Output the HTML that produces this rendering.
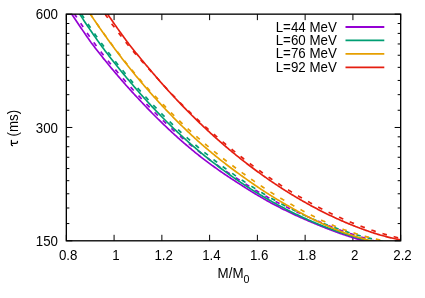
<!DOCTYPE html>
<html><head><meta charset="utf-8"><title>plot</title>
<style>html,body{margin:0;padding:0;background:#fff;}body{width:425px;height:298px;position:relative;overflow:hidden;font-family:"Liberation Sans",sans-serif;}</style>
</head><body>
<svg width="425" height="298" viewBox="0 0 425 298" style="position:absolute;left:0;top:0;will-change:transform">
<defs><clipPath id="c"><rect x="66.33" y="14.15" width="334.34" height="226.65"/></clipPath></defs>
<rect width="425" height="298" fill="#fff"/>
<path d="M66.33 240.80 v-6.0 M66.33 14.15 v6.0 M114.09 240.80 v-6.0 M114.09 14.15 v6.0 M161.86 240.80 v-6.0 M161.86 14.15 v6.0 M209.62 240.80 v-6.0 M209.62 14.15 v6.0 M257.38 240.80 v-6.0 M257.38 14.15 v6.0 M305.14 240.80 v-6.0 M305.14 14.15 v6.0 M352.91 240.80 v-6.0 M352.91 14.15 v6.0 M400.67 240.80 v-6.0 M400.67 14.15 v6.0 M66.33 240.80 h6.0 M400.67 240.80 h-6.0 M66.33 127.48 h6.0 M400.67 127.48 h-6.0 M66.33 14.15 h6.0 M400.67 14.15 h-6.0 M66.33 223.57 h3.0 M400.67 223.57 h-3.0 M66.33 207.99 h3.0 M400.67 207.99 h-3.0 M66.33 193.77 h3.0 M400.67 193.77 h-3.0 M66.33 180.68 h3.0 M400.67 180.68 h-3.0 M66.33 168.56 h3.0 M400.67 168.56 h-3.0 M66.33 157.28 h3.0 M400.67 157.28 h-3.0 M66.33 146.73 h3.0 M400.67 146.73 h-3.0 M66.33 136.82 h3.0 M400.67 136.82 h-3.0 M66.33 110.25 h3.0 M400.67 110.25 h-3.0 M66.33 94.67 h3.0 M400.67 94.67 h-3.0 M66.33 80.44 h3.0 M400.67 80.44 h-3.0 M66.33 67.35 h3.0 M400.67 67.35 h-3.0 M66.33 55.24 h3.0 M400.67 55.24 h-3.0 M66.33 43.96 h3.0 M400.67 43.96 h-3.0 M66.33 33.41 h3.0 M400.67 33.41 h-3.0 M66.33 23.50 h3.0 M400.67 23.50 h-3.0" stroke="#000" stroke-width="1.00" fill="none"/>
<g clip-path="url(#c)" fill="none" stroke-width="1.67" stroke-linejoin="round">
<path d="M60.00 -3.71 L61.00 -2.15 L62.00 -0.60 L63.00 0.94 L64.00 2.48 L65.00 4.01 L66.00 5.53 L67.00 7.05 L68.00 8.56 L69.00 10.06 L70.00 11.56 L71.00 13.05 L72.00 14.53 L73.00 16.00 L74.00 17.47 L75.00 18.93 L76.00 20.44 L77.00 21.95 L78.00 23.46 L79.00 24.95 L80.00 26.44 L81.00 27.93 L82.00 29.40 L83.00 30.87 L84.00 32.33 L85.00 33.79 L86.00 35.24 L87.00 36.68 L88.00 38.12 L89.00 39.55 L90.00 40.97 L91.00 42.39 L92.00 43.71 L93.00 45.03 L94.00 46.34 L95.00 47.65 L96.00 48.94 L97.00 50.24 L98.00 51.52 L99.00 52.80 L100.00 54.07 L101.00 55.34 L102.00 56.60 L103.00 57.86 L104.00 59.11 L105.00 60.35 L106.00 61.59 L107.00 62.82 L108.00 64.04 L109.00 65.26 L110.00 66.47 L111.00 67.68 L112.00 68.88 L113.00 70.08 L114.00 71.26 L115.00 72.45 L116.00 73.63 L117.00 74.81 L118.00 75.99 L119.00 77.16 L120.00 78.32 L121.00 79.48 L122.00 80.63 L123.00 81.77 L124.00 82.91 L125.00 84.05 L126.00 85.18 L127.00 86.30 L128.00 87.42 L129.00 88.53 L130.00 89.63 L131.00 90.74 L132.00 91.83 L133.00 92.92 L134.00 94.01 L135.00 95.08 L136.00 96.16 L137.00 97.23 L138.00 98.29 L139.00 99.35 L140.00 100.40 L141.00 101.48 L142.00 102.55 L143.00 103.61 L144.00 104.67 L145.00 105.73 L146.00 106.78 L147.00 107.82 L148.00 108.86 L149.00 109.89 L150.00 110.92 L151.00 111.95 L152.00 112.97 L153.00 113.98 L154.00 114.99 L155.00 115.99 L156.00 116.99 L157.00 117.99 L158.00 118.98 L159.00 119.96 L160.00 120.94 L161.00 121.92 L162.00 122.89 L163.00 123.85 L164.00 124.81 L165.00 125.77 L166.00 126.72 L167.00 127.66 L168.00 128.60 L169.00 129.54 L170.00 130.47 L171.00 131.40 L172.00 132.32 L173.00 133.24 L174.00 134.15 L175.00 135.06 L176.00 135.96 L177.00 136.86 L178.00 137.76 L179.00 138.65 L180.00 139.53 L181.00 140.41 L182.00 141.29 L183.00 142.16 L184.00 143.03 L185.00 143.89 L186.00 144.75 L187.00 145.61 L188.00 146.46 L189.00 147.30 L190.00 148.14 L191.00 148.98 L192.00 149.81 L193.00 150.64 L194.00 151.46 L195.00 152.29 L196.00 153.10 L197.00 153.91 L198.00 154.72 L199.00 155.50 L200.00 156.28 L201.00 157.05 L202.00 157.82 L203.00 158.59 L204.00 159.35 L205.00 160.11 L206.00 160.86 L207.00 161.62 L208.00 162.36 L209.00 163.10 L210.00 163.84 L211.00 164.58 L212.00 165.31 L213.00 166.03 L214.00 166.76 L215.00 167.47 L216.00 168.19 L217.00 168.90 L218.00 169.61 L219.00 170.31 L220.00 171.01 L221.00 171.71 L222.00 172.40 L223.00 173.09 L224.00 173.77 L225.00 174.45 L226.00 175.13 L227.00 175.80 L228.00 176.47 L229.00 177.14 L230.00 177.80 L231.00 178.46 L232.00 179.11 L233.00 179.77 L234.00 180.41 L235.00 181.06 L236.00 181.70 L237.00 182.34 L238.00 182.97 L239.00 183.60 L240.00 184.23 L241.00 184.88 L242.00 185.53 L243.00 186.18 L244.00 186.82 L245.00 187.46 L246.00 188.09 L247.00 188.72 L248.00 189.35 L249.00 189.98 L250.00 190.60 L251.00 191.22 L252.00 191.84 L253.00 192.45 L254.00 193.06 L255.00 193.66 L256.00 194.27 L257.00 194.87 L258.00 195.46 L259.00 196.05 L260.00 196.65 L261.00 197.23 L262.00 197.82 L263.00 198.40 L264.00 198.97 L265.00 199.55 L266.00 200.12 L267.00 200.69 L268.00 201.25 L269.00 201.82 L270.00 202.38 L271.00 202.93 L272.00 203.49 L273.00 204.01 L274.00 204.54 L275.00 205.06 L276.00 205.58 L277.00 206.10 L278.00 206.61 L279.00 207.12 L280.00 207.63 L281.00 208.13 L282.00 208.63 L283.00 209.13 L284.00 209.63 L285.00 210.12 L286.00 210.61 L287.00 211.10 L288.00 211.58 L289.00 212.07 L290.00 212.55 L291.00 213.02 L292.00 213.50 L293.00 213.97 L294.00 214.44 L295.00 214.90 L296.00 215.37 L297.00 215.83 L298.00 216.29 L299.00 216.74 L300.00 217.19 L301.00 217.64 L302.00 218.09 L303.00 218.54 L304.00 218.98 L305.00 219.42 L306.00 219.86 L307.00 220.29 L308.00 220.72 L309.00 221.15 L310.00 221.58 L311.00 222.01 L312.00 222.43 L313.00 222.85 L314.00 223.26 L315.00 223.68 L316.00 224.09 L317.00 224.50 L318.00 224.91 L319.00 225.32 L320.00 225.72 L321.00 226.13 L322.00 226.53 L323.00 226.93 L324.00 227.33 L325.00 227.72 L326.00 228.12 L327.00 228.51 L328.00 228.90 L329.00 229.28 L330.00 229.67 L331.00 230.05 L332.00 230.43 L333.00 230.81 L334.00 231.18 L335.00 231.56 L336.00 231.93 L337.00 232.30 L338.00 232.66 L339.00 233.03 L340.00 233.39 L341.00 233.73 L342.00 234.07 L343.00 234.40 L344.00 234.74 L345.00 235.07 L346.00 235.40 L347.00 235.73 L348.00 236.05 L349.00 236.38 L350.00 236.70 L351.00 237.02 L352.00 237.33 L353.00 237.65 L354.00 237.96 L355.00 238.27 L356.00 238.58 L357.00 238.89 L358.00 239.20 L359.00 239.50 L360.00 239.80 L361.00 240.11 L362.00 240.42 L363.00 240.73 L364.00 241.04 L365.00 241.34 L366.00 241.65 L367.00 241.95 L368.00 242.24 L369.00 242.54 L370.00 242.84 L371.00 243.13 L372.00 243.42 L373.00 243.71 L374.00 244.00 L375.00 244.29 L376.00 244.57 L377.00 244.85 L378.00 245.13 L379.00 245.41 L380.00 245.69 L381.00 245.96 L382.00 246.24 L383.00 246.51 L384.00 246.78 L385.00 247.04 L386.00 247.31 L387.00 247.57 L388.00 247.84 L389.00 248.10 L390.00 248.36 L391.00 248.61 L392.00 248.87 L393.00 249.12 L394.00 249.38 L395.00 249.63 L396.00 249.87 L397.00 250.12 L398.00 250.37 L399.00 250.61 L400.00 250.85 L401.00 251.09 L402.00 251.33" stroke="#9400d3"/>
<path d="M60.00 -8.11 L61.00 -6.54 L62.00 -4.98 L63.00 -3.43 L64.00 -1.88 L65.00 -0.34 L66.00 1.19 L67.00 2.72 L68.00 4.24 L69.00 5.75 L70.00 7.26 L71.00 8.76 L72.00 10.25 L73.00 11.73 L74.00 13.21 L75.00 14.68 L76.00 16.20 L77.00 17.72 L78.00 19.24 L79.00 20.74 L80.00 22.24 L81.00 23.77 L82.00 25.29 L83.00 26.81 L84.00 28.31 L85.00 29.81 L86.00 31.31 L87.00 32.80 L88.00 34.28 L89.00 35.75 L90.00 37.22 L91.00 38.69 L92.00 40.05 L93.00 41.42 L94.00 42.77 L95.00 44.12 L96.00 45.46 L97.00 46.80 L98.00 48.13 L99.00 49.46 L100.00 50.77 L101.00 52.04 L102.00 53.31 L103.00 54.56 L104.00 55.82 L105.00 57.06 L106.00 58.30 L107.00 59.53 L108.00 60.76 L109.00 61.98 L110.00 63.19 L111.00 64.40 L112.00 65.60 L113.00 66.80 L114.00 67.99 L115.00 69.18 L116.00 70.37 L117.00 71.55 L118.00 72.72 L119.00 73.90 L120.00 75.06 L121.00 76.22 L122.00 77.37 L123.00 78.52 L124.00 79.66 L125.00 80.80 L126.00 81.93 L127.00 83.05 L128.00 84.17 L129.00 85.29 L130.00 86.39 L131.00 87.50 L132.00 88.59 L133.00 89.69 L134.00 90.77 L135.00 91.85 L136.00 92.93 L137.00 94.00 L138.00 95.07 L139.00 96.13 L140.00 97.18 L141.00 98.26 L142.00 99.33 L143.00 100.40 L144.00 101.46 L145.00 102.52 L146.00 103.57 L147.00 104.61 L148.00 105.66 L149.00 106.69 L150.00 107.72 L151.00 108.74 L152.00 109.75 L153.00 110.76 L154.00 111.76 L155.00 112.75 L156.00 113.75 L157.00 114.73 L158.00 115.71 L159.00 116.69 L160.00 117.66 L161.00 118.63 L162.00 119.59 L163.00 120.55 L164.00 121.50 L165.00 122.45 L166.00 123.39 L167.00 124.33 L168.00 125.26 L169.00 126.19 L170.00 127.11 L171.00 128.03 L172.00 128.95 L173.00 129.85 L174.00 130.76 L175.00 131.66 L176.00 132.55 L177.00 133.43 L178.00 134.31 L179.00 135.18 L180.00 136.05 L181.00 136.91 L182.00 137.77 L183.00 138.63 L184.00 139.48 L185.00 140.33 L186.00 141.17 L187.00 142.01 L188.00 142.84 L189.00 143.67 L190.00 144.49 L191.00 145.31 L192.00 146.13 L193.00 146.94 L194.00 147.75 L195.00 148.55 L196.00 149.35 L197.00 150.15 L198.00 150.94 L199.00 151.70 L200.00 152.46 L201.00 153.22 L202.00 153.97 L203.00 154.72 L204.00 155.47 L205.00 156.21 L206.00 156.97 L207.00 157.72 L208.00 158.47 L209.00 159.21 L210.00 159.96 L211.00 160.69 L212.00 161.43 L213.00 162.16 L214.00 162.88 L215.00 163.60 L216.00 164.32 L217.00 165.03 L218.00 165.74 L219.00 166.45 L220.00 167.15 L221.00 167.85 L222.00 168.55 L223.00 169.24 L224.00 169.93 L225.00 170.61 L226.00 171.29 L227.00 171.97 L228.00 172.64 L229.00 173.31 L230.00 173.97 L231.00 174.63 L232.00 175.29 L233.00 175.95 L234.00 176.60 L235.00 177.24 L236.00 177.89 L237.00 178.53 L238.00 179.17 L239.00 179.80 L240.00 180.43 L241.00 181.08 L242.00 181.73 L243.00 182.37 L244.00 183.01 L245.00 183.65 L246.00 184.28 L247.00 184.91 L248.00 185.54 L249.00 186.16 L250.00 186.78 L251.00 187.40 L252.00 188.02 L253.00 188.63 L254.00 189.23 L255.00 189.84 L256.00 190.44 L257.00 191.04 L258.00 191.63 L259.00 192.22 L260.00 192.81 L261.00 193.40 L262.00 193.98 L263.00 194.56 L264.00 195.13 L265.00 195.71 L266.00 196.28 L267.00 196.84 L268.00 197.41 L269.00 197.97 L270.00 198.53 L271.00 199.08 L272.00 199.63 L273.00 200.16 L274.00 200.68 L275.00 201.20 L276.00 201.72 L277.00 202.23 L278.00 202.75 L279.00 203.25 L280.00 203.76 L281.00 204.26 L282.00 204.76 L283.00 205.26 L284.00 205.75 L285.00 206.25 L286.00 206.74 L287.00 207.22 L288.00 207.70 L289.00 208.19 L290.00 208.66 L291.00 209.14 L292.00 209.61 L293.00 210.08 L294.00 210.55 L295.00 211.01 L296.00 211.47 L297.00 211.93 L298.00 212.39 L299.00 212.84 L300.00 213.29 L301.00 213.76 L302.00 214.22 L303.00 214.67 L304.00 215.13 L305.00 215.58 L306.00 216.03 L307.00 216.47 L308.00 216.92 L309.00 217.36 L310.00 217.80 L311.00 218.24 L312.00 218.67 L313.00 219.10 L314.00 219.53 L315.00 219.96 L316.00 220.38 L317.00 220.81 L318.00 221.23 L319.00 221.64 L320.00 222.06 L321.00 222.48 L322.00 222.89 L323.00 223.30 L324.00 223.71 L325.00 224.12 L326.00 224.54 L327.00 224.95 L328.00 225.36 L329.00 225.76 L330.00 226.17 L331.00 226.57 L332.00 226.97 L333.00 227.37 L334.00 227.76 L335.00 228.16 L336.00 228.55 L337.00 228.94 L338.00 229.32 L339.00 229.71 L340.00 230.09 L341.00 230.45 L342.00 230.81 L343.00 231.16 L344.00 231.52 L345.00 231.87 L346.00 232.20 L347.00 232.53 L348.00 232.85 L349.00 233.18 L350.00 233.50 L351.00 233.82 L352.00 234.13 L353.00 234.45 L354.00 234.76 L355.00 235.07 L356.00 235.38 L357.00 235.69 L358.00 236.00 L359.00 236.30 L360.00 236.60 L361.00 236.91 L362.00 237.22 L363.00 237.53 L364.00 237.84 L365.00 238.14 L366.00 238.45 L367.00 238.75 L368.00 239.04 L369.00 239.34 L370.00 239.64 L371.00 239.93 L372.00 240.22 L373.00 240.51 L374.00 240.80 L375.00 241.09 L376.00 241.37 L377.00 241.65 L378.00 241.93 L379.00 242.21 L380.00 242.49 L381.00 242.76 L382.00 243.04 L383.00 243.31 L384.00 243.58 L385.00 243.84 L386.00 244.11 L387.00 244.37 L388.00 244.64 L389.00 244.90 L390.00 245.16 L391.00 245.41 L392.00 245.67 L393.00 245.92 L394.00 246.18 L395.00 246.43 L396.00 246.67 L397.00 246.92 L398.00 247.17 L399.00 247.41 L400.00 247.65 L401.00 247.89 L402.00 248.13" stroke="#9400d3" stroke-dasharray="4.60 7.00" stroke-dashoffset="8.89"/>
<path d="M60.00 -18.04 L61.00 -16.33 L62.00 -14.63 L63.00 -12.94 L64.00 -11.25 L65.00 -9.58 L66.00 -7.91 L67.00 -6.25 L68.00 -4.60 L69.00 -2.96 L70.00 -1.33 L71.00 0.30 L72.00 1.92 L73.00 3.52 L74.00 5.12 L75.00 6.71 L76.00 8.30 L77.00 9.87 L78.00 11.44 L79.00 13.00 L80.00 14.55 L81.00 16.09 L82.00 17.63 L83.00 19.16 L84.00 20.67 L85.00 22.19 L86.00 23.69 L87.00 25.18 L88.00 26.67 L89.00 28.15 L90.00 29.63 L91.00 31.09 L92.00 32.55 L93.00 34.00 L94.00 35.44 L95.00 36.88 L96.00 38.30 L97.00 39.72 L98.00 41.14 L99.00 42.54 L100.00 43.94 L101.00 45.30 L102.00 46.65 L103.00 47.99 L104.00 49.33 L105.00 50.66 L106.00 51.98 L107.00 53.29 L108.00 54.60 L109.00 55.90 L110.00 57.20 L111.00 58.48 L112.00 59.76 L113.00 61.04 L114.00 62.30 L115.00 63.56 L116.00 64.82 L117.00 66.06 L118.00 67.30 L119.00 68.54 L120.00 69.76 L121.00 70.98 L122.00 72.20 L123.00 73.40 L124.00 74.60 L125.00 75.80 L126.00 76.99 L127.00 78.17 L128.00 79.34 L129.00 80.51 L130.00 81.68 L131.00 82.87 L132.00 84.06 L133.00 85.24 L134.00 86.42 L135.00 87.58 L136.00 88.75 L137.00 89.91 L138.00 91.06 L139.00 92.20 L140.00 93.34 L141.00 94.48 L142.00 95.60 L143.00 96.73 L144.00 97.84 L145.00 98.95 L146.00 100.06 L147.00 101.16 L148.00 102.25 L149.00 103.34 L150.00 104.42 L151.00 105.50 L152.00 106.57 L153.00 107.63 L154.00 108.69 L155.00 109.75 L156.00 110.80 L157.00 111.84 L158.00 112.88 L159.00 113.91 L160.00 114.94 L161.00 115.96 L162.00 116.98 L163.00 117.99 L164.00 119.00 L165.00 120.00 L166.00 120.99 L167.00 121.98 L168.00 122.97 L169.00 123.95 L170.00 124.92 L171.00 125.89 L172.00 126.86 L173.00 127.82 L174.00 128.78 L175.00 129.73 L176.00 130.67 L177.00 131.61 L178.00 132.55 L179.00 133.48 L180.00 134.40 L181.00 135.33 L182.00 136.24 L183.00 137.15 L184.00 138.06 L185.00 138.96 L186.00 139.86 L187.00 140.75 L188.00 141.64 L189.00 142.52 L190.00 143.40 L191.00 144.28 L192.00 145.15 L193.00 146.01 L194.00 146.87 L195.00 147.73 L196.00 148.58 L197.00 149.43 L198.00 150.27 L199.00 151.11 L200.00 151.94 L201.00 152.77 L202.00 153.59 L203.00 154.41 L204.00 155.23 L205.00 156.04 L206.00 156.85 L207.00 157.65 L208.00 158.45 L209.00 159.25 L210.00 160.04 L211.00 160.83 L212.00 161.61 L213.00 162.39 L214.00 163.16 L215.00 163.93 L216.00 164.70 L217.00 165.46 L218.00 166.22 L219.00 166.97 L220.00 167.72 L221.00 168.47 L222.00 169.21 L223.00 169.95 L224.00 170.68 L225.00 171.42 L226.00 172.14 L227.00 172.86 L228.00 173.58 L229.00 174.30 L230.00 175.01 L231.00 175.72 L232.00 176.42 L233.00 177.12 L234.00 177.82 L235.00 178.51 L236.00 179.20 L237.00 179.88 L238.00 180.57 L239.00 181.24 L240.00 181.92 L241.00 182.59 L242.00 183.25 L243.00 183.92 L244.00 184.58 L245.00 185.23 L246.00 185.88 L247.00 186.53 L248.00 187.18 L249.00 187.82 L250.00 188.46 L251.00 189.09 L252.00 189.72 L253.00 190.35 L254.00 190.97 L255.00 191.59 L256.00 192.21 L257.00 192.82 L258.00 193.43 L259.00 194.04 L260.00 194.64 L261.00 195.24 L262.00 195.83 L263.00 196.43 L264.00 197.02 L265.00 197.60 L266.00 198.18 L267.00 198.76 L268.00 199.34 L269.00 199.91 L270.00 200.48 L271.00 201.04 L272.00 201.61 L273.00 202.16 L274.00 202.72 L275.00 203.27 L276.00 203.82 L277.00 204.37 L278.00 204.91 L279.00 205.45 L280.00 205.98 L281.00 206.52 L282.00 207.05 L283.00 207.57 L284.00 208.10 L285.00 208.62 L286.00 209.13 L287.00 209.65 L288.00 210.16 L289.00 210.66 L290.00 211.17 L291.00 211.67 L292.00 212.17 L293.00 212.66 L294.00 213.15 L295.00 213.64 L296.00 214.13 L297.00 214.61 L298.00 215.09 L299.00 215.56 L300.00 216.04 L301.00 216.51 L302.00 216.97 L303.00 217.44 L304.00 217.90 L305.00 218.35 L306.00 218.81 L307.00 219.26 L308.00 219.71 L309.00 220.15 L310.00 220.59 L311.00 221.03 L312.00 221.47 L313.00 221.90 L314.00 222.33 L315.00 222.75 L316.00 223.18 L317.00 223.60 L318.00 224.01 L319.00 224.43 L320.00 224.84 L321.00 225.24 L322.00 225.63 L323.00 226.03 L324.00 226.42 L325.00 226.80 L326.00 227.19 L327.00 227.57 L328.00 227.94 L329.00 228.32 L330.00 228.69 L331.00 229.06 L332.00 229.42 L333.00 229.79 L334.00 230.14 L335.00 230.50 L336.00 230.85 L337.00 231.20 L338.00 231.55 L339.00 231.89 L340.00 232.23 L341.00 232.57 L342.00 232.91 L343.00 233.24 L344.00 233.57 L345.00 233.89 L346.00 234.21 L347.00 234.53 L348.00 234.85 L349.00 235.16 L350.00 235.47 L351.00 235.77 L352.00 236.08 L353.00 236.38 L354.00 236.67 L355.00 236.97 L356.00 237.26 L357.00 237.55 L358.00 237.83 L359.00 238.11 L360.00 238.39 L361.00 238.66 L362.00 238.94 L363.00 239.21 L364.00 239.47 L365.00 239.73 L366.00 239.99 L367.00 240.25 L368.00 240.50 L369.00 240.75 L370.00 241.00 L371.00 241.24 L372.00 241.48 L373.00 241.74 L374.00 242.00 L375.00 242.25 L376.00 242.50 L377.00 242.75 L378.00 243.00 L379.00 243.24 L380.00 243.47 L381.00 243.71 L382.00 243.94 L383.00 244.17 L384.00 244.39 L385.00 244.61 L386.00 244.83 L387.00 245.04 L388.00 245.25 L389.00 245.46 L390.00 245.66 L391.00 245.87 L392.00 246.06 L393.00 246.26 L394.00 246.45 L395.00 246.63 L396.00 246.82 L397.00 247.00 L398.00 247.18 L399.00 247.35 L400.00 247.52 L401.00 247.69 L402.00 247.85" stroke="#009e73"/>
<path d="M60.00 -20.74 L61.00 -19.03 L62.00 -17.33 L63.00 -15.63 L64.00 -13.95 L65.00 -12.27 L66.00 -10.60 L67.00 -8.94 L68.00 -7.29 L69.00 -5.65 L70.00 -4.01 L71.00 -2.39 L72.00 -0.77 L73.00 0.84 L74.00 2.44 L75.00 4.04 L76.00 5.62 L77.00 7.20 L78.00 8.77 L79.00 10.33 L80.00 11.88 L81.00 13.42 L82.00 14.96 L83.00 16.49 L84.00 18.01 L85.00 19.52 L86.00 21.03 L87.00 22.52 L88.00 24.01 L89.00 25.49 L90.00 26.97 L91.00 28.44 L92.00 29.89 L93.00 31.35 L94.00 32.79 L95.00 34.23 L96.00 35.65 L97.00 37.08 L98.00 38.49 L99.00 39.90 L100.00 41.30 L101.00 42.66 L102.00 44.01 L103.00 45.35 L104.00 46.69 L105.00 48.02 L106.00 49.34 L107.00 50.66 L108.00 51.97 L109.00 53.27 L110.00 54.57 L111.00 55.86 L112.00 57.14 L113.00 58.41 L114.00 59.68 L115.00 60.94 L116.00 62.20 L117.00 63.44 L118.00 64.69 L119.00 65.92 L120.00 67.15 L121.00 68.37 L122.00 69.59 L123.00 70.79 L124.00 72.00 L125.00 73.19 L126.00 74.38 L127.00 75.56 L128.00 76.74 L129.00 77.91 L130.00 79.08 L131.00 80.26 L132.00 81.44 L133.00 82.61 L134.00 83.78 L135.00 84.93 L136.00 86.09 L137.00 87.24 L138.00 88.38 L139.00 89.51 L140.00 90.64 L141.00 91.77 L142.00 92.88 L143.00 94.00 L144.00 95.10 L145.00 96.20 L146.00 97.30 L147.00 98.39 L148.00 99.47 L149.00 100.55 L150.00 101.62 L151.00 102.69 L152.00 103.75 L153.00 104.80 L154.00 105.85 L155.00 106.90 L156.00 107.94 L157.00 108.97 L158.00 110.00 L159.00 111.02 L160.00 112.04 L161.00 113.05 L162.00 114.06 L163.00 115.07 L164.00 116.07 L165.00 117.06 L166.00 118.05 L167.00 119.03 L168.00 120.01 L169.00 120.98 L170.00 121.95 L171.00 122.91 L172.00 123.87 L173.00 124.82 L174.00 125.77 L175.00 126.71 L176.00 127.65 L177.00 128.58 L178.00 129.51 L179.00 130.44 L180.00 131.35 L181.00 132.27 L182.00 133.18 L183.00 134.08 L184.00 134.98 L185.00 135.87 L186.00 136.76 L187.00 137.65 L188.00 138.53 L189.00 139.41 L190.00 140.28 L191.00 141.14 L192.00 142.01 L193.00 142.86 L194.00 143.72 L195.00 144.56 L196.00 145.41 L197.00 146.25 L198.00 147.08 L199.00 147.91 L200.00 148.74 L201.00 149.57 L202.00 150.39 L203.00 151.21 L204.00 152.03 L205.00 152.84 L206.00 153.65 L207.00 154.45 L208.00 155.25 L209.00 156.05 L210.00 156.84 L211.00 157.63 L212.00 158.41 L213.00 159.19 L214.00 159.96 L215.00 160.73 L216.00 161.50 L217.00 162.26 L218.00 163.02 L219.00 163.77 L220.00 164.52 L221.00 165.27 L222.00 166.01 L223.00 166.75 L224.00 167.48 L225.00 168.22 L226.00 168.94 L227.00 169.66 L228.00 170.38 L229.00 171.10 L230.00 171.81 L231.00 172.52 L232.00 173.23 L233.00 173.94 L234.00 174.64 L235.00 175.34 L236.00 176.03 L237.00 176.72 L238.00 177.41 L239.00 178.09 L240.00 178.77 L241.00 179.45 L242.00 180.12 L243.00 180.79 L244.00 181.46 L245.00 182.12 L246.00 182.78 L247.00 183.43 L248.00 184.08 L249.00 184.73 L250.00 185.37 L251.00 186.01 L252.00 186.65 L253.00 187.28 L254.00 187.91 L255.00 188.53 L256.00 189.16 L257.00 189.78 L258.00 190.39 L259.00 191.00 L260.00 191.61 L261.00 192.22 L262.00 192.82 L263.00 193.42 L264.00 194.01 L265.00 194.60 L266.00 195.19 L267.00 195.77 L268.00 196.35 L269.00 196.93 L270.00 197.51 L271.00 198.08 L272.00 198.65 L273.00 199.21 L274.00 199.77 L275.00 200.33 L276.00 200.88 L277.00 201.43 L278.00 201.98 L279.00 202.53 L280.00 203.07 L281.00 203.61 L282.00 204.14 L283.00 204.68 L284.00 205.20 L285.00 205.73 L286.00 206.25 L287.00 206.77 L288.00 207.29 L289.00 207.80 L290.00 208.31 L291.00 208.82 L292.00 209.32 L293.00 209.82 L294.00 210.32 L295.00 210.81 L296.00 211.30 L297.00 211.79 L298.00 212.28 L299.00 212.76 L300.00 213.24 L301.00 213.71 L302.00 214.18 L303.00 214.64 L304.00 215.11 L305.00 215.57 L306.00 216.02 L307.00 216.48 L308.00 216.93 L309.00 217.38 L310.00 217.82 L311.00 218.26 L312.00 218.70 L313.00 219.14 L314.00 219.57 L315.00 220.00 L316.00 220.42 L317.00 220.85 L318.00 221.27 L319.00 221.68 L320.00 222.10 L321.00 222.50 L322.00 222.90 L323.00 223.29 L324.00 223.69 L325.00 224.08 L326.00 224.46 L327.00 224.85 L328.00 225.23 L329.00 225.60 L330.00 225.98 L331.00 226.35 L332.00 226.72 L333.00 227.08 L334.00 227.44 L335.00 227.80 L336.00 228.16 L337.00 228.51 L338.00 228.86 L339.00 229.21 L340.00 229.55 L341.00 229.89 L342.00 230.23 L343.00 230.56 L344.00 230.89 L345.00 231.22 L346.00 231.55 L347.00 231.87 L348.00 232.19 L349.00 232.50 L350.00 232.81 L351.00 233.12 L352.00 233.43 L353.00 233.73 L354.00 234.03 L355.00 234.33 L356.00 234.62 L357.00 234.91 L358.00 235.20 L359.00 235.48 L360.00 235.77 L361.00 236.04 L362.00 236.32 L363.00 236.59 L364.00 236.86 L365.00 237.13 L366.00 237.39 L367.00 237.65 L368.00 237.90 L369.00 238.16 L370.00 238.41 L371.00 238.65 L372.00 238.90 L373.00 239.16 L374.00 239.42 L375.00 239.68 L376.00 239.93 L377.00 240.18 L378.00 240.43 L379.00 240.67 L380.00 240.91 L381.00 241.15 L382.00 241.38 L383.00 241.61 L384.00 241.84 L385.00 242.06 L386.00 242.28 L387.00 242.50 L388.00 242.71 L389.00 242.92 L390.00 243.13 L391.00 243.33 L392.00 243.53 L393.00 243.73 L394.00 243.92 L395.00 244.11 L396.00 244.30 L397.00 244.48 L398.00 244.66 L399.00 244.84 L400.00 245.01 L401.00 245.18 L402.00 245.35" stroke="#009e73" stroke-dasharray="4.60 7.00" stroke-dashoffset="5.36"/>
<path d="M60.00 -35.02 L61.00 -33.28 L62.00 -31.55 L63.00 -29.83 L64.00 -28.12 L65.00 -26.42 L66.00 -24.72 L67.00 -23.03 L68.00 -21.35 L69.00 -19.68 L70.00 -18.02 L71.00 -16.36 L72.00 -14.71 L73.00 -13.07 L74.00 -11.44 L75.00 -9.82 L76.00 -8.20 L77.00 -6.59 L78.00 -4.99 L79.00 -3.40 L80.00 -1.81 L81.00 -0.23 L82.00 1.34 L83.00 2.90 L84.00 4.46 L85.00 6.01 L86.00 7.55 L87.00 9.08 L88.00 10.61 L89.00 12.12 L90.00 13.64 L91.00 15.14 L92.00 16.64 L93.00 18.13 L94.00 19.61 L95.00 21.09 L96.00 22.55 L97.00 24.02 L98.00 25.47 L99.00 26.92 L100.00 28.36 L101.00 29.79 L102.00 31.22 L103.00 32.64 L104.00 34.06 L105.00 35.46 L106.00 36.86 L107.00 38.26 L108.00 39.65 L109.00 41.03 L110.00 42.40 L111.00 43.77 L112.00 45.13 L113.00 46.49 L114.00 47.83 L115.00 49.18 L116.00 50.51 L117.00 51.84 L118.00 53.16 L119.00 54.48 L120.00 55.79 L121.00 57.09 L122.00 58.39 L123.00 59.68 L124.00 60.97 L125.00 62.25 L126.00 63.52 L127.00 64.79 L128.00 66.05 L129.00 67.31 L130.00 68.56 L131.00 69.80 L132.00 71.04 L133.00 72.27 L134.00 73.49 L135.00 74.71 L136.00 75.93 L137.00 77.14 L138.00 78.34 L139.00 79.54 L140.00 80.73 L141.00 81.92 L142.00 83.10 L143.00 84.27 L144.00 85.44 L145.00 86.60 L146.00 87.76 L147.00 88.92 L148.00 90.06 L149.00 91.21 L150.00 92.34 L151.00 93.47 L152.00 94.60 L153.00 95.72 L154.00 96.84 L155.00 97.95 L156.00 99.05 L157.00 100.15 L158.00 101.25 L159.00 102.34 L160.00 103.42 L161.00 104.50 L162.00 105.57 L163.00 106.64 L164.00 107.71 L165.00 108.77 L166.00 109.82 L167.00 110.87 L168.00 111.91 L169.00 112.95 L170.00 113.99 L171.00 115.02 L172.00 116.04 L173.00 117.06 L174.00 118.07 L175.00 119.08 L176.00 120.09 L177.00 121.09 L178.00 122.08 L179.00 123.07 L180.00 124.06 L181.00 125.04 L182.00 126.02 L183.00 126.99 L184.00 127.96 L185.00 128.92 L186.00 129.88 L187.00 130.83 L188.00 131.78 L189.00 132.72 L190.00 133.66 L191.00 134.59 L192.00 135.53 L193.00 136.45 L194.00 137.37 L195.00 138.29 L196.00 139.20 L197.00 140.11 L198.00 141.01 L199.00 141.91 L200.00 142.81 L201.00 143.69 L202.00 144.56 L203.00 145.42 L204.00 146.29 L205.00 147.15 L206.00 148.00 L207.00 148.85 L208.00 149.70 L209.00 150.54 L210.00 151.38 L211.00 152.21 L212.00 153.04 L213.00 153.87 L214.00 154.69 L215.00 155.50 L216.00 156.32 L217.00 157.13 L218.00 157.93 L219.00 158.73 L220.00 159.53 L221.00 160.32 L222.00 161.11 L223.00 161.89 L224.00 162.68 L225.00 163.45 L226.00 164.22 L227.00 164.99 L228.00 165.76 L229.00 166.52 L230.00 167.27 L231.00 168.03 L232.00 168.78 L233.00 169.52 L234.00 170.26 L235.00 171.00 L236.00 171.73 L237.00 172.46 L238.00 173.19 L239.00 173.91 L240.00 174.63 L241.00 175.34 L242.00 176.05 L243.00 176.76 L244.00 177.46 L245.00 178.16 L246.00 178.88 L247.00 179.60 L248.00 180.31 L249.00 181.02 L250.00 181.72 L251.00 182.42 L252.00 183.12 L253.00 183.81 L254.00 184.50 L255.00 185.19 L256.00 185.87 L257.00 186.55 L258.00 187.22 L259.00 187.90 L260.00 188.56 L261.00 189.23 L262.00 189.89 L263.00 190.54 L264.00 191.20 L265.00 191.85 L266.00 192.49 L267.00 193.13 L268.00 193.77 L269.00 194.41 L270.00 195.04 L271.00 195.66 L272.00 196.29 L273.00 196.91 L274.00 197.53 L275.00 198.14 L276.00 198.75 L277.00 199.35 L278.00 199.96 L279.00 200.56 L280.00 201.15 L281.00 201.74 L282.00 202.33 L283.00 202.92 L284.00 203.50 L285.00 204.08 L286.00 204.65 L287.00 205.22 L288.00 205.79 L289.00 206.35 L290.00 206.91 L291.00 207.49 L292.00 208.06 L293.00 208.63 L294.00 209.19 L295.00 209.75 L296.00 210.31 L297.00 210.86 L298.00 211.41 L299.00 211.95 L300.00 212.50 L301.00 213.04 L302.00 213.57 L303.00 214.10 L304.00 214.63 L305.00 215.15 L306.00 215.67 L307.00 216.19 L308.00 216.70 L309.00 217.21 L310.00 217.72 L311.00 218.22 L312.00 218.72 L313.00 219.21 L314.00 219.71 L315.00 220.19 L316.00 220.68 L317.00 221.16 L318.00 221.64 L319.00 222.11 L320.00 222.58 L321.00 223.04 L322.00 223.51 L323.00 223.96 L324.00 224.42 L325.00 224.87 L326.00 225.31 L327.00 225.76 L328.00 226.20 L329.00 226.63 L330.00 227.06 L331.00 227.49 L332.00 227.92 L333.00 228.34 L334.00 228.76 L335.00 229.17 L336.00 229.58 L337.00 229.98 L338.00 230.39 L339.00 230.79 L340.00 231.18 L341.00 231.55 L342.00 231.91 L343.00 232.27 L344.00 232.62 L345.00 232.97 L346.00 233.32 L347.00 233.66 L348.00 234.00 L349.00 234.34 L350.00 234.67 L351.00 235.00 L352.00 235.32 L353.00 235.64 L354.00 235.96 L355.00 236.27 L356.00 236.58 L357.00 236.88 L358.00 237.18 L359.00 237.48 L360.00 237.77 L361.00 238.06 L362.00 238.34 L363.00 238.62 L364.00 238.90 L365.00 239.17 L366.00 239.44 L367.00 239.71 L368.00 239.97 L369.00 240.22 L370.00 240.48 L371.00 240.72 L372.00 240.97 L373.00 241.21 L374.00 241.44 L375.00 241.67 L376.00 241.90 L377.00 242.14 L378.00 242.38 L379.00 242.62 L380.00 242.85 L381.00 243.07 L382.00 243.29 L383.00 243.51 L384.00 243.72 L385.00 243.93 L386.00 244.14 L387.00 244.34 L388.00 244.53 L389.00 244.72 L390.00 244.91 L391.00 245.09 L392.00 245.27 L393.00 245.44 L394.00 245.61 L395.00 245.78 L396.00 245.94 L397.00 246.09 L398.00 246.24 L399.00 246.39 L400.00 246.53 L401.00 246.67 L402.00 246.80" stroke="#e69f00"/>
<path d="M60.00 -35.02 L61.00 -33.29 L62.00 -31.56 L63.00 -29.85 L64.00 -28.14 L65.00 -26.44 L66.00 -24.75 L67.00 -23.07 L68.00 -21.39 L69.00 -19.72 L70.00 -18.07 L71.00 -16.41 L72.00 -14.77 L73.00 -13.14 L74.00 -11.51 L75.00 -9.89 L76.00 -8.28 L77.00 -6.68 L78.00 -5.08 L79.00 -3.49 L80.00 -1.91 L81.00 -0.34 L82.00 1.23 L83.00 2.79 L84.00 4.34 L85.00 5.88 L86.00 7.42 L87.00 8.94 L88.00 10.47 L89.00 11.98 L90.00 13.49 L91.00 14.98 L92.00 16.48 L93.00 17.96 L94.00 19.44 L95.00 20.91 L96.00 22.37 L97.00 23.83 L98.00 25.28 L99.00 26.72 L100.00 28.16 L101.00 29.57 L102.00 30.97 L103.00 32.37 L104.00 33.76 L105.00 35.14 L106.00 36.52 L107.00 37.89 L108.00 39.25 L109.00 40.61 L110.00 41.96 L111.00 43.30 L112.00 44.64 L113.00 45.97 L114.00 47.30 L115.00 48.62 L116.00 49.93 L117.00 51.23 L118.00 52.53 L119.00 53.82 L120.00 55.11 L121.00 56.39 L122.00 57.66 L123.00 58.93 L124.00 60.19 L125.00 61.45 L126.00 62.70 L127.00 63.95 L128.00 65.19 L129.00 66.43 L130.00 67.66 L131.00 68.88 L132.00 70.10 L133.00 71.31 L134.00 72.51 L135.00 73.71 L136.00 74.91 L137.00 76.10 L138.00 77.28 L139.00 78.46 L140.00 79.63 L141.00 80.80 L142.00 81.96 L143.00 83.11 L144.00 84.26 L145.00 85.40 L146.00 86.50 L147.00 87.58 L148.00 88.66 L149.00 89.74 L150.00 90.81 L151.00 91.87 L152.00 92.93 L153.00 93.99 L154.00 95.04 L155.00 96.08 L156.00 97.12 L157.00 98.15 L158.00 99.18 L159.00 100.20 L160.00 101.22 L161.00 102.27 L162.00 103.32 L163.00 104.37 L164.00 105.41 L165.00 106.44 L166.00 107.47 L167.00 108.49 L168.00 109.51 L169.00 110.53 L170.00 111.54 L171.00 112.54 L172.00 113.54 L173.00 114.53 L174.00 115.52 L175.00 116.51 L176.00 117.49 L177.00 118.46 L178.00 119.43 L179.00 120.40 L180.00 121.36 L181.00 122.32 L182.00 123.27 L183.00 124.21 L184.00 125.16 L185.00 126.09 L186.00 127.03 L187.00 127.95 L188.00 128.88 L189.00 129.80 L190.00 130.71 L191.00 131.62 L192.00 132.53 L193.00 133.43 L194.00 134.32 L195.00 135.21 L196.00 136.10 L197.00 136.99 L198.00 137.86 L199.00 138.74 L200.00 139.61 L201.00 140.48 L202.00 141.34 L203.00 142.19 L204.00 143.05 L205.00 143.90 L206.00 144.74 L207.00 145.58 L208.00 146.42 L209.00 147.25 L210.00 148.08 L211.00 148.90 L212.00 149.72 L213.00 150.54 L214.00 151.35 L215.00 152.15 L216.00 152.96 L217.00 153.76 L218.00 154.55 L219.00 155.34 L220.00 156.13 L221.00 156.91 L222.00 157.69 L223.00 158.46 L224.00 159.24 L225.00 160.00 L226.00 160.76 L227.00 161.52 L228.00 162.28 L229.00 163.03 L230.00 163.77 L231.00 164.53 L232.00 165.29 L233.00 166.03 L234.00 166.78 L235.00 167.52 L236.00 168.26 L237.00 168.99 L238.00 169.72 L239.00 170.45 L240.00 171.17 L241.00 171.89 L242.00 172.60 L243.00 173.31 L244.00 174.02 L245.00 174.73 L246.00 175.45 L247.00 176.17 L248.00 176.89 L249.00 177.60 L250.00 178.31 L251.00 179.01 L252.00 179.71 L253.00 180.41 L254.00 181.11 L255.00 181.80 L256.00 182.48 L257.00 183.17 L258.00 183.84 L259.00 184.52 L260.00 185.19 L261.00 185.86 L262.00 186.52 L263.00 187.19 L264.00 187.84 L265.00 188.50 L266.00 189.15 L267.00 189.79 L268.00 190.43 L269.00 191.07 L270.00 191.71 L271.00 192.34 L272.00 192.97 L273.00 193.59 L274.00 194.21 L275.00 194.83 L276.00 195.45 L277.00 196.06 L278.00 196.66 L279.00 197.27 L280.00 197.87 L281.00 198.46 L282.00 199.05 L283.00 199.64 L284.00 200.23 L285.00 200.81 L286.00 201.39 L287.00 201.97 L288.00 202.54 L289.00 203.11 L290.00 203.67 L291.00 204.25 L292.00 204.82 L293.00 205.40 L294.00 205.96 L295.00 206.53 L296.00 207.09 L297.00 207.65 L298.00 208.20 L299.00 208.75 L300.00 209.30 L301.00 209.84 L302.00 210.38 L303.00 210.92 L304.00 211.45 L305.00 211.98 L306.00 212.51 L307.00 213.03 L308.00 213.55 L309.00 214.07 L310.00 214.58 L311.00 215.09 L312.00 215.59 L313.00 216.09 L314.00 216.59 L315.00 217.08 L316.00 217.57 L317.00 218.06 L318.00 218.54 L319.00 219.02 L320.00 219.50 L321.00 219.97 L322.00 220.44 L323.00 220.90 L324.00 221.36 L325.00 221.81 L326.00 222.27 L327.00 222.72 L328.00 223.16 L329.00 223.60 L330.00 224.04 L331.00 224.47 L332.00 224.91 L333.00 225.33 L334.00 225.76 L335.00 226.17 L336.00 226.59 L337.00 227.00 L338.00 227.41 L339.00 227.81 L340.00 228.22 L341.00 228.59 L342.00 228.96 L343.00 229.32 L344.00 229.68 L345.00 230.04 L346.00 230.39 L347.00 230.74 L348.00 231.08 L349.00 231.42 L350.00 231.76 L351.00 232.10 L352.00 232.43 L353.00 232.75 L354.00 233.07 L355.00 233.39 L356.00 233.71 L357.00 234.02 L358.00 234.32 L359.00 234.62 L360.00 234.92 L361.00 235.22 L362.00 235.51 L363.00 235.79 L364.00 236.08 L365.00 236.36 L366.00 236.63 L367.00 236.90 L368.00 237.17 L369.00 237.43 L370.00 237.69 L371.00 237.94 L372.00 238.19 L373.00 238.44 L374.00 238.68 L375.00 238.92 L376.00 239.15 L377.00 239.40 L378.00 239.64 L379.00 239.88 L380.00 240.12 L381.00 240.35 L382.00 240.58 L383.00 240.80 L384.00 241.02 L385.00 241.23 L386.00 241.44 L387.00 241.65 L388.00 241.85 L389.00 242.05 L390.00 242.24 L391.00 242.43 L392.00 242.61 L393.00 242.79 L394.00 242.96 L395.00 243.13 L396.00 243.30 L397.00 243.46 L398.00 243.62 L399.00 243.77 L400.00 243.92 L401.00 244.06 L402.00 244.20" stroke="#e69f00" stroke-dasharray="4.60 7.00" stroke-dashoffset="0.43"/>
<path d="M60.00 -62.86 L61.00 -61.07 L62.00 -59.28 L63.00 -57.50 L64.00 -55.73 L65.00 -53.97 L66.00 -52.21 L67.00 -50.47 L68.00 -48.73 L69.00 -47.00 L70.00 -45.28 L71.00 -43.56 L72.00 -41.85 L73.00 -40.15 L74.00 -38.46 L75.00 -36.78 L76.00 -35.10 L77.00 -33.43 L78.00 -31.77 L79.00 -30.12 L80.00 -28.47 L81.00 -26.83 L82.00 -25.20 L83.00 -23.57 L84.00 -21.96 L85.00 -20.35 L86.00 -18.75 L87.00 -17.15 L88.00 -15.56 L89.00 -13.98 L90.00 -12.41 L91.00 -10.84 L92.00 -9.28 L93.00 -7.73 L94.00 -6.19 L95.00 -4.65 L96.00 -3.12 L97.00 -1.59 L98.00 -0.07 L99.00 1.44 L100.00 2.94 L101.00 4.44 L102.00 5.93 L103.00 7.41 L104.00 8.89 L105.00 10.36 L106.00 11.82 L107.00 13.28 L108.00 14.73 L109.00 16.17 L110.00 17.64 L111.00 19.09 L112.00 20.55 L113.00 21.99 L114.00 23.43 L115.00 24.86 L116.00 26.29 L117.00 27.71 L118.00 29.13 L119.00 30.53 L120.00 31.94 L121.00 33.33 L122.00 34.72 L123.00 36.10 L124.00 37.48 L125.00 38.85 L126.00 40.22 L127.00 41.58 L128.00 42.86 L129.00 44.14 L130.00 45.41 L131.00 46.67 L132.00 47.93 L133.00 49.19 L134.00 50.43 L135.00 51.67 L136.00 52.91 L137.00 54.14 L138.00 55.36 L139.00 56.58 L140.00 57.79 L141.00 59.00 L142.00 60.20 L143.00 61.40 L144.00 62.59 L145.00 63.77 L146.00 64.95 L147.00 66.13 L148.00 67.29 L149.00 68.46 L150.00 69.61 L151.00 70.81 L152.00 72.00 L153.00 73.18 L154.00 74.36 L155.00 75.54 L156.00 76.71 L157.00 77.87 L158.00 79.03 L159.00 80.18 L160.00 81.33 L161.00 82.47 L162.00 83.61 L163.00 84.74 L164.00 85.87 L165.00 87.00 L166.00 88.11 L167.00 89.23 L168.00 90.33 L169.00 91.44 L170.00 92.54 L171.00 93.63 L172.00 94.72 L173.00 95.80 L174.00 96.88 L175.00 97.95 L176.00 99.02 L177.00 100.09 L178.00 101.15 L179.00 102.20 L180.00 103.25 L181.00 104.30 L182.00 105.34 L183.00 106.37 L184.00 107.40 L185.00 108.43 L186.00 109.45 L187.00 110.47 L188.00 111.48 L189.00 112.49 L190.00 113.49 L191.00 114.49 L192.00 115.49 L193.00 116.47 L194.00 117.46 L195.00 118.44 L196.00 119.42 L197.00 120.39 L198.00 121.36 L199.00 122.32 L200.00 123.28 L201.00 124.23 L202.00 125.18 L203.00 126.13 L204.00 127.07 L205.00 128.01 L206.00 128.94 L207.00 129.87 L208.00 130.80 L209.00 131.72 L210.00 132.63 L211.00 133.55 L212.00 134.45 L213.00 135.36 L214.00 136.26 L215.00 137.15 L216.00 138.04 L217.00 138.93 L218.00 139.82 L219.00 140.69 L220.00 141.57 L221.00 142.44 L222.00 143.31 L223.00 144.17 L224.00 145.03 L225.00 145.89 L226.00 146.74 L227.00 147.59 L228.00 148.43 L229.00 149.27 L230.00 150.10 L231.00 150.94 L232.00 151.76 L233.00 152.59 L234.00 153.41 L235.00 154.22 L236.00 155.04 L237.00 155.85 L238.00 156.65 L239.00 157.45 L240.00 158.25 L241.00 159.04 L242.00 159.83 L243.00 160.62 L244.00 161.40 L245.00 162.18 L246.00 162.96 L247.00 163.73 L248.00 164.50 L249.00 165.26 L250.00 166.02 L251.00 166.78 L252.00 167.53 L253.00 168.28 L254.00 169.02 L255.00 169.77 L256.00 170.50 L257.00 171.24 L258.00 171.97 L259.00 172.70 L260.00 173.42 L261.00 174.14 L262.00 174.86 L263.00 175.57 L264.00 176.28 L265.00 176.98 L266.00 177.69 L267.00 178.38 L268.00 179.08 L269.00 179.77 L270.00 180.46 L271.00 181.14 L272.00 181.82 L273.00 182.50 L274.00 183.17 L275.00 183.84 L276.00 184.51 L277.00 185.17 L278.00 185.83 L279.00 186.49 L280.00 187.14 L281.00 187.79 L282.00 188.43 L283.00 189.08 L284.00 189.71 L285.00 190.35 L286.00 190.98 L287.00 191.61 L288.00 192.23 L289.00 192.85 L290.00 193.47 L291.00 194.09 L292.00 194.70 L293.00 195.30 L294.00 195.91 L295.00 196.51 L296.00 197.11 L297.00 197.70 L298.00 198.29 L299.00 198.88 L300.00 199.46 L301.00 200.04 L302.00 200.62 L303.00 201.19 L304.00 201.76 L305.00 202.33 L306.00 202.89 L307.00 203.45 L308.00 204.01 L309.00 204.56 L310.00 205.11 L311.00 205.66 L312.00 206.20 L313.00 206.74 L314.00 207.28 L315.00 207.81 L316.00 208.34 L317.00 208.86 L318.00 209.39 L319.00 209.90 L320.00 210.42 L321.00 210.93 L322.00 211.44 L323.00 211.95 L324.00 212.45 L325.00 212.94 L326.00 213.44 L327.00 213.93 L328.00 214.42 L329.00 214.90 L330.00 215.38 L331.00 215.86 L332.00 216.33 L333.00 216.80 L334.00 217.27 L335.00 217.73 L336.00 218.19 L337.00 218.65 L338.00 219.10 L339.00 219.55 L340.00 220.00 L341.00 220.44 L342.00 220.88 L343.00 221.32 L344.00 221.75 L345.00 222.18 L346.00 222.61 L347.00 223.03 L348.00 223.45 L349.00 223.86 L350.00 224.28 L351.00 224.68 L352.00 225.09 L353.00 225.49 L354.00 225.89 L355.00 226.28 L356.00 226.67 L357.00 227.06 L358.00 227.44 L359.00 227.82 L360.00 228.20 L361.00 228.57 L362.00 228.94 L363.00 229.31 L364.00 229.67 L365.00 230.03 L366.00 230.38 L367.00 230.73 L368.00 231.08 L369.00 231.42 L370.00 231.76 L371.00 232.10 L372.00 232.43 L373.00 232.76 L374.00 233.08 L375.00 233.40 L376.00 233.72 L377.00 234.03 L378.00 234.34 L379.00 234.65 L380.00 234.95 L381.00 235.23 L382.00 235.51 L383.00 235.78 L384.00 236.05 L385.00 236.31 L386.00 236.57 L387.00 236.83 L388.00 237.08 L389.00 237.33 L390.00 237.58 L391.00 237.82 L392.00 238.06 L393.00 238.29 L394.00 238.52 L395.00 238.75 L396.00 238.97 L397.00 239.19 L398.00 239.40 L399.00 239.61 L400.00 239.82 L401.00 240.02 L402.00 240.22" stroke="#e51e10"/>
<path d="M60.00 -59.26 L61.00 -57.47 L62.00 -55.68 L63.00 -53.90 L64.00 -52.13 L65.00 -50.37 L66.00 -48.61 L67.00 -46.87 L68.00 -45.13 L69.00 -43.40 L70.00 -41.68 L71.00 -39.96 L72.00 -38.25 L73.00 -36.55 L74.00 -34.86 L75.00 -33.18 L76.00 -31.50 L77.00 -29.83 L78.00 -28.17 L79.00 -26.52 L80.00 -24.87 L81.00 -23.23 L82.00 -21.60 L83.00 -19.97 L84.00 -18.36 L85.00 -16.75 L86.00 -15.15 L87.00 -13.55 L88.00 -11.96 L89.00 -10.38 L90.00 -8.81 L91.00 -7.24 L92.00 -5.68 L93.00 -4.13 L94.00 -2.59 L95.00 -1.05 L96.00 0.48 L97.00 2.01 L98.00 3.53 L99.00 5.04 L100.00 6.54 L101.00 8.04 L102.00 9.53 L103.00 11.01 L104.00 12.49 L105.00 13.96 L106.00 15.42 L107.00 16.88 L108.00 18.33 L109.00 19.77 L110.00 21.24 L111.00 22.69 L112.00 24.15 L113.00 25.50 L114.00 26.84 L115.00 28.18 L116.00 29.52 L117.00 30.84 L118.00 32.17 L119.00 33.48 L120.00 34.79 L121.00 36.09 L122.00 37.39 L123.00 38.68 L124.00 39.96 L125.00 41.24 L126.00 42.51 L127.00 43.78 L128.00 45.00 L129.00 46.21 L130.00 47.41 L131.00 48.61 L132.00 49.80 L133.00 50.99 L134.00 52.17 L135.00 53.34 L136.00 54.51 L137.00 55.67 L138.00 56.83 L139.00 57.98 L140.00 59.13 L141.00 60.27 L142.00 61.40 L143.00 62.52 L144.00 63.64 L145.00 64.75 L146.00 65.85 L147.00 66.95 L148.00 68.04 L149.00 69.13 L150.00 70.21 L151.00 71.33 L152.00 72.45 L153.00 73.56 L154.00 74.66 L155.00 75.76 L156.00 76.86 L157.00 77.94 L158.00 79.03 L159.00 80.15 L160.00 81.27 L161.00 82.38 L162.00 83.48 L163.00 84.59 L164.00 85.68 L165.00 86.77 L166.00 87.86 L167.00 88.94 L168.00 90.02 L169.00 91.09 L170.00 92.15 L171.00 93.22 L172.00 94.27 L173.00 95.32 L174.00 96.37 L175.00 97.41 L176.00 98.45 L177.00 99.48 L178.00 100.51 L179.00 101.53 L180.00 102.55 L181.00 103.56 L182.00 104.56 L183.00 105.55 L184.00 106.54 L185.00 107.53 L186.00 108.51 L187.00 109.49 L188.00 110.46 L189.00 111.43 L190.00 112.39 L191.00 113.35 L192.00 114.31 L193.00 115.25 L194.00 116.20 L195.00 117.14 L196.00 118.08 L197.00 119.01 L198.00 119.94 L199.00 120.86 L200.00 121.78 L201.00 122.71 L202.00 123.63 L203.00 124.55 L204.00 125.47 L205.00 126.38 L206.00 127.28 L207.00 128.19 L208.00 129.08 L209.00 129.98 L210.00 130.87 L211.00 131.75 L212.00 132.63 L213.00 133.51 L214.00 134.38 L215.00 135.25 L216.00 136.12 L217.00 136.98 L218.00 137.84 L219.00 138.69 L220.00 139.54 L221.00 140.38 L222.00 141.22 L223.00 142.06 L224.00 142.89 L225.00 143.72 L226.00 144.54 L227.00 145.37 L228.00 146.18 L229.00 147.00 L230.00 147.80 L231.00 148.63 L232.00 149.46 L233.00 150.28 L234.00 151.10 L235.00 151.91 L236.00 152.72 L237.00 153.53 L238.00 154.33 L239.00 155.13 L240.00 155.92 L241.00 156.71 L242.00 157.50 L243.00 158.28 L244.00 159.06 L245.00 159.84 L246.00 160.61 L247.00 161.38 L248.00 162.14 L249.00 162.90 L250.00 163.66 L251.00 164.42 L252.00 165.17 L253.00 165.91 L254.00 166.65 L255.00 167.39 L256.00 168.13 L257.00 168.86 L258.00 169.59 L259.00 170.31 L260.00 171.03 L261.00 171.75 L262.00 172.47 L263.00 173.17 L264.00 173.88 L265.00 174.58 L266.00 175.28 L267.00 175.98 L268.00 176.67 L269.00 177.36 L270.00 178.04 L271.00 178.73 L272.00 179.40 L273.00 180.08 L274.00 180.75 L275.00 181.41 L276.00 182.08 L277.00 182.74 L278.00 183.39 L279.00 184.05 L280.00 184.70 L281.00 185.34 L282.00 185.99 L283.00 186.62 L284.00 187.26 L285.00 187.89 L286.00 188.52 L287.00 189.15 L288.00 189.77 L289.00 190.39 L290.00 191.00 L291.00 191.61 L292.00 192.22 L293.00 192.82 L294.00 193.42 L295.00 194.02 L296.00 194.62 L297.00 195.21 L298.00 195.80 L299.00 196.38 L300.00 196.96 L301.00 197.54 L302.00 198.12 L303.00 198.70 L304.00 199.27 L305.00 199.84 L306.00 200.41 L307.00 200.97 L308.00 201.53 L309.00 202.09 L310.00 202.64 L311.00 203.19 L312.00 203.73 L313.00 204.28 L314.00 204.82 L315.00 205.35 L316.00 205.88 L317.00 206.41 L318.00 206.94 L319.00 207.46 L320.00 207.98 L321.00 208.49 L322.00 209.00 L323.00 209.51 L324.00 210.01 L325.00 210.52 L326.00 211.01 L327.00 211.51 L328.00 212.00 L329.00 212.48 L330.00 212.97 L331.00 213.45 L332.00 213.92 L333.00 214.40 L334.00 214.87 L335.00 215.33 L336.00 215.80 L337.00 216.26 L338.00 216.71 L339.00 217.16 L340.00 217.61 L341.00 218.06 L342.00 218.50 L343.00 218.94 L344.00 219.38 L345.00 219.81 L346.00 220.24 L347.00 220.66 L348.00 221.09 L349.00 221.50 L350.00 221.92 L351.00 222.33 L352.00 222.74 L353.00 223.14 L354.00 223.54 L355.00 223.94 L356.00 224.33 L357.00 224.72 L358.00 225.11 L359.00 225.49 L360.00 225.87 L361.00 226.25 L362.00 226.62 L363.00 226.99 L364.00 227.35 L365.00 227.71 L366.00 228.07 L367.00 228.42 L368.00 228.77 L369.00 229.12 L370.00 229.46 L371.00 229.82 L372.00 230.17 L373.00 230.52 L374.00 230.87 L375.00 231.21 L376.00 231.55 L377.00 231.89 L378.00 232.22 L379.00 232.54 L380.00 232.87 L381.00 233.17 L382.00 233.47 L383.00 233.76 L384.00 234.05 L385.00 234.34 L386.00 234.62 L387.00 234.90 L388.00 235.18 L389.00 235.45 L390.00 235.72 L391.00 235.98 L392.00 236.24 L393.00 236.49 L394.00 236.75 L395.00 236.99 L396.00 237.24 L397.00 237.48 L398.00 237.71 L399.00 237.95 L400.00 238.18 L401.00 238.40 L402.00 238.62" stroke="#e51e10" stroke-dasharray="4.60 7.00" stroke-dashoffset="6.65"/>
</g>
<rect x="66.33" y="14.15" width="334.34" height="226.65" fill="none" stroke="#000" stroke-width="1.33"/>
<g font-family="'Liberation Sans', sans-serif" font-size="13.33px" fill="#000">
<text transform="translate(336.80 31.50) scale(1.000 1.050)" text-anchor="end">L=44 MeV</text>
<path d="M345.5 27.00 H384.3" stroke="#9400d3" stroke-width="1.80" fill="none"/>
<text transform="translate(336.80 44.95) scale(1.000 1.050)" text-anchor="end">L=60 MeV</text>
<path d="M345.5 40.45 H384.3" stroke="#009e73" stroke-width="1.80" fill="none"/>
<text transform="translate(336.80 58.40) scale(1.000 1.050)" text-anchor="end">L=76 MeV</text>
<path d="M345.5 53.90 H384.3" stroke="#e69f00" stroke-width="1.80" fill="none"/>
<text transform="translate(336.80 71.85) scale(1.000 1.050)" text-anchor="end">L=92 MeV</text>
<path d="M345.5 67.35 H384.3" stroke="#e51e10" stroke-width="1.80" fill="none"/>
<text transform="translate(58.00 245.90) scale(1.000 1.050)" text-anchor="end">150</text>
<text transform="translate(58.00 132.58) scale(1.000 1.050)" text-anchor="end">300</text>
<text transform="translate(58.00 19.25) scale(1.000 1.050)" text-anchor="end">600</text>
<text transform="translate(68.13 259.90) scale(1.000 1.050)" text-anchor="middle">0.8</text>
<text transform="translate(115.89 259.90) scale(1.000 1.050)" text-anchor="middle">1</text>
<text transform="translate(163.66 259.90) scale(1.000 1.050)" text-anchor="middle">1.2</text>
<text transform="translate(211.42 259.90) scale(1.000 1.050)" text-anchor="middle">1.4</text>
<text transform="translate(259.18 259.90) scale(1.000 1.050)" text-anchor="middle">1.6</text>
<text transform="translate(306.94 259.90) scale(1.000 1.050)" text-anchor="middle">1.8</text>
<text transform="translate(354.71 259.90) scale(1.000 1.050)" text-anchor="middle">2</text>
<text transform="translate(402.47 259.90) scale(1.000 1.050)" text-anchor="middle">2.2</text>
<text transform="translate(233.50 278.40) scale(1.000 1.050)" text-anchor="middle">M/M<tspan font-size="10.66px" dy="4.30">0</tspan></text>
<g transform="translate(17.90 127.70) rotate(-90)"><text transform="translate(17.8 0) scale(1.000 1.050)" text-anchor="end">(ms)</text><path d="M-17.9,-5.4 Q-17.8,-6.5 -16.7,-6.5 L-12.6,-6.5 M-15.6,-6.5 L-15.6,-1.9 Q-15.6,-0.4 -14.3,-0.4 L-13.6,-0.5" fill="none" stroke="#000" stroke-width="1.20" stroke-linecap="round" stroke-linejoin="round"/></g>
</g>
</svg>
</body></html>
